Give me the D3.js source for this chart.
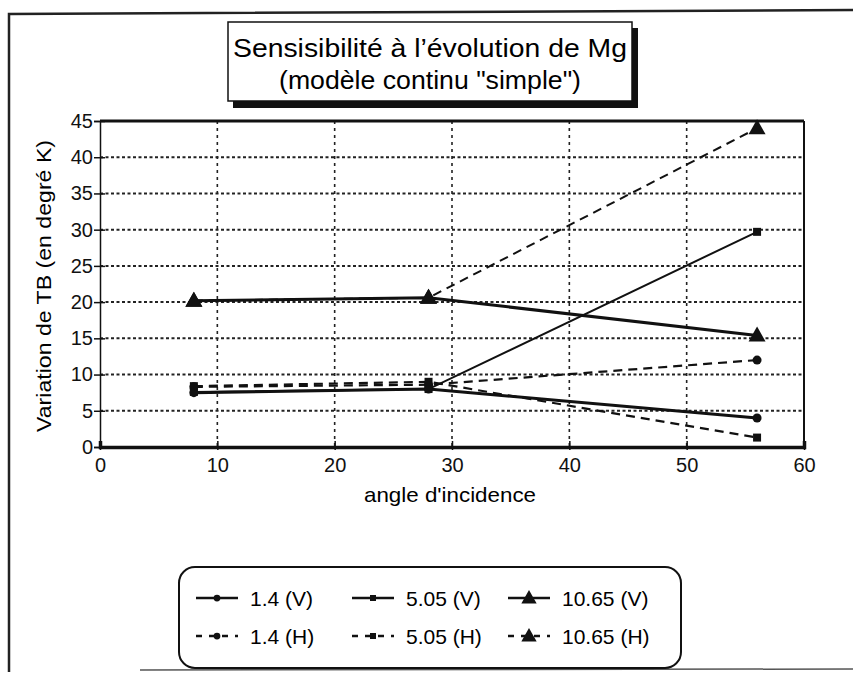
<!DOCTYPE html>
<html>
<head>
<meta charset="utf-8">
<script src="https://cdn.jsdelivr.net/npm/d3@7"></script>
<style>
  body { margin: 0; background: #fff; }
  svg { font-family: "Liberation Sans", Arial, sans-serif; }
</style>
</head>
<body>
<div id="chart"></div>
<script>
const WIDTH = 853
const HEIGHT = 675

// angles
const angles = [8, 28, 56]
const seriesNames = ["1.4 (V)", "1.4 (H)", "5.05 (V)", "5.05 (H)", "10.65 (V)", "10.65 (H)"]
const v14V = [7.5, 8.0, 4.0]
const v14H = [8.3, 8.6, 12.0]
const v505V = [7.6, 8.0, 29.7]
const v505H = [8.4, 9.0, 1.3]
const v1065V = [20.2, 20.6, 15.4]
const v1065H = [20.2, 20.6, 44.0]
const xTicks = [0, 10, 20, 30, 40, 50, 60]
const yTicks = [0, 5, 10, 15, 20, 25, 30, 35, 40, 45]

const series = [
  { name: seriesNames[0], values: v14V, dashed: false, marker: "circle", width: 3 },
  { name: seriesNames[1], values: v14H, dashed: true, marker: "circle", width: 2.2 },
  { name: seriesNames[2], values: v505V, dashed: false, marker: "square", width: 2 },
  { name: seriesNames[3], values: v505H, dashed: true, marker: "square", width: 2.2 },
  { name: seriesNames[4], values: v1065V, dashed: false, marker: "triangle", width: 3 },
  { name: seriesNames[5], values: v1065H, dashed: true, marker: "triangle", width: 2 }
]

const margin = { left: 100, right: 49, top: 121, bottom: 228 }
const innerW = WIDTH - margin.left - margin.right
const innerH = HEIGHT - margin.top - margin.bottom

const svg = d3.select("#chart")
  .append("svg")
  .attr("width", WIDTH)
  .attr("height", HEIGHT)

// outer frame of the scanned page
svg.append("path")
  .attr("d", "M9,672 L9,14 L853,10")
  .attr("fill", "none")
  .attr("stroke", "#222")
  .attr("stroke-width", 2.5)
svg.append("line")
  .attr("x1", 140).attr("y1", 670).attr("x2", 853).attr("y2", 669)
  .attr("stroke", "#555").attr("stroke-width", 1.5)

// title box with shadow
svg.append("rect")
  .attr("x", 233).attr("y", 28).attr("width", 405).attr("height", 80)
  .attr("fill", "#111")
svg.append("rect")
  .attr("x", 228).attr("y", 22).attr("width", 404).attr("height", 79)
  .attr("fill", "#fff").attr("stroke", "#111").attr("stroke-width", 1.5)
svg.append("text")
  .attr("x", 430).attr("y", 57)
  .attr("text-anchor", "middle")
  .attr("font-size", 26)
  .attr("textLength", 394)
  .attr("lengthAdjust", "spacingAndGlyphs")
  .text("Sensisibilité à l’évolution de Mg")
svg.append("text")
  .attr("x", 430).attr("y", 89)
  .attr("text-anchor", "middle")
  .attr("font-size", 26)
  .attr("textLength", 302)
  .attr("lengthAdjust", "spacingAndGlyphs")
  .text("(modèle continu \"simple\")")

const g = svg.append("g")
  .attr("transform", `translate(${margin.left},${margin.top})`)

const x = d3.scaleLinear().domain([0, 60]).range([0, innerW])
const y = d3.scaleLinear().domain([0, 45]).range([innerH, 0])

// dotted grid
g.selectAll(".hgrid")
  .data(yTicks.filter(d => d > 0 && d < 45))
  .enter().append("line")
  .attr("x1", 0).attr("x2", innerW)
  .attr("y1", d => y(d)).attr("y2", d => y(d))
  .attr("stroke", "#222")
  .attr("stroke-width", 2)
  .attr("stroke-dasharray", "3,2.5")
g.selectAll(".vgrid")
  .data(xTicks.filter(d => d > 0 && d < 60))
  .enter().append("line")
  .attr("y1", 0).attr("y2", innerH)
  .attr("x1", d => x(d)).attr("x2", d => x(d))
  .attr("stroke", "#222")
  .attr("stroke-width", 1.6)
  .attr("stroke-dasharray", "3,4")

// plot frame
g.append("line").attr("x1", 0).attr("x2", innerW).attr("y1", 0).attr("y2", 0)
  .attr("stroke", "#111").attr("stroke-width", 3)
g.append("line").attr("x1", innerW).attr("x2", innerW).attr("y1", 0).attr("y2", innerH)
  .attr("stroke", "#111").attr("stroke-width", 2)

// axes
const yAxis = g.append("g")
  .call(d3.axisLeft(y).tickValues(yTicks).tickSize(6).tickPadding(1))
const yAxisIn = g.append("g")
  .call(d3.axisRight(y).tickValues(yTicks).tickSize(5).tickFormat(""))
const xAxis = g.append("g")
  .attr("transform", `translate(0,${innerH})`)
  .call(d3.axisBottom(x).tickValues(xTicks).tickSize(-6).tickPadding(7))
const xAxisOut = g.append("g")
  .attr("transform", `translate(0,${innerH})`)
  .call(d3.axisBottom(x).tickValues(xTicks).tickSize(3).tickFormat(""))

;[yAxis, yAxisIn, xAxis, xAxisOut].forEach(a => {
  a.selectAll("line").attr("stroke", "#111").attr("stroke-width", 1.5)
  a.selectAll("text").attr("font-size", 20).attr("fill", "#111")
    .attr("font-family", "Liberation Sans, Arial, sans-serif")
})
yAxis.select(".domain").attr("stroke", "#111").attr("stroke-width", 1.5)
yAxisIn.select(".domain").remove()
xAxisOut.select(".domain").remove()
xAxis.select(".domain").attr("stroke", "#111").attr("stroke-width", 3.5)
xAxis.selectAll("text").attr("dy", "0.9em")

// axis titles
svg.append("text")
  .attr("x", 450).attr("y", 502)
  .attr("text-anchor", "middle")
  .attr("font-size", 21)
  .attr("textLength", 172)
  .attr("lengthAdjust", "spacingAndGlyphs")
  .text("angle d'incidence")
svg.append("text")
  .attr("transform", "translate(51,286) rotate(-90)")
  .attr("text-anchor", "middle")
  .attr("font-size", 21)
  .attr("textLength", 292)
  .attr("lengthAdjust", "spacingAndGlyphs")
  .text("Variation de TB (en degré K)")

// markers
function drawMarker(sel, type, cx, cy, scale) {
  const s = scale || 1
  if (type === "circle") {
    sel.append("circle").attr("cx", cx).attr("cy", cy).attr("r", 4.5 * s).attr("fill", "#111")
  } else if (type === "square") {
    sel.append("rect").attr("x", cx - 4 * s).attr("y", cy - 4 * s)
      .attr("width", 8 * s).attr("height", 8 * s).attr("fill", "#111")
  } else {
    const h = 15 * s, w = 17 * s
    sel.append("path")
      .attr("d", `M${cx},${cy - h * 0.6} L${cx + w / 2},${cy + h * 0.4} L${cx - w / 2},${cy + h * 0.4} Z`)
      .attr("fill", "#111")
  }
}

const line = d3.line()
  .x((d, i) => x(angles[i]))
  .y(d => y(d))

series.forEach(s => {
  g.append("path")
    .datum(s.values)
    .attr("fill", "none")
    .attr("stroke", "#111")
    .attr("stroke-width", s.width)
    .attr("stroke-dasharray", s.dashed ? "9,6" : null)
    .attr("d", line)
  s.values.forEach((v, i) => drawMarker(g, s.marker, x(angles[i]), y(v)))
})

// legend
svg.append("rect")
  .attr("x", 179).attr("y", 567).attr("width", 502).attr("height", 101)
  .attr("rx", 16).attr("ry", 16)
  .attr("fill", "#fff").attr("stroke", "#111").attr("stroke-width", 2)

const legendOrder = [0, 2, 4, 1, 3, 5]
const colX = [196, 352, 508]
const rowY = [598, 636]
legendOrder.forEach((si, k) => {
  const s = series[si]
  const lx = colX[k % 3]
  const ly = rowY[Math.floor(k / 3)]
  const lg = svg.append("g")
  lg.append("line")
    .attr("x1", lx).attr("x2", lx + 42)
    .attr("y1", ly).attr("y2", ly)
    .attr("stroke", "#111")
    .attr("stroke-width", 2.5)
    .attr("stroke-dasharray", s.dashed ? "6,7" : null)
  drawMarker(lg, s.marker, lx + 21, ly, s.marker === "triangle" ? 0.9 : 0.75)
  lg.append("text")
    .attr("x", lx + 54).attr("y", ly + 8)
    .attr("font-size", 21)
    .text(s.name)
})
</script>
</body>
</html>
